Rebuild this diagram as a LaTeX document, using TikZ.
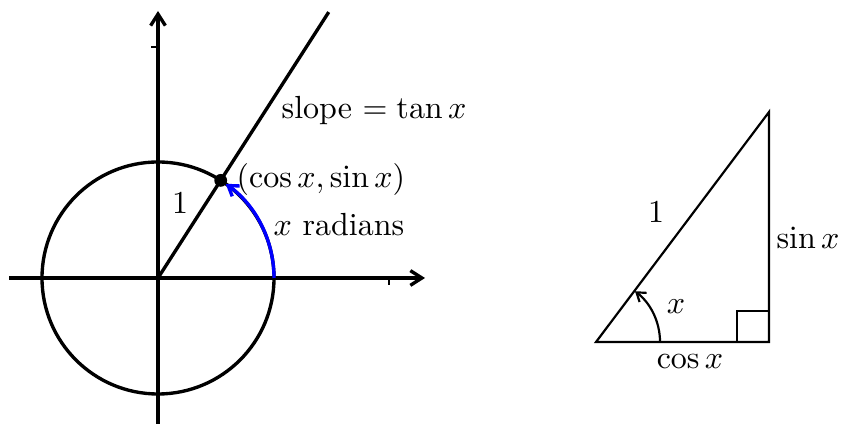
\documentclass[tikz,border=0pt]{standalone}
\usetikzlibrary{arrows.meta}
\begin{document}
\begin{tikzpicture}[x=0.3125pt,y=0.3125pt,
  thickline/.style={line width=1.05pt},
  thinline/.style={line width=0.68pt},
  axisarrow/.style={-{Straight Barb[length=3.6pt,width=4.6pt]}},
  lbl/.style={inner sep=0pt}]
\useasboundingbox (0,0) rectangle (844,424);
% left figure
\coordinate (O) at (158,146);
\coordinate (xs) at (9,146);
\coordinate (xe) at (425,146);
\coordinate (ys) at (158,0);
\coordinate (ye) at (158,413);
\draw[thickline,axisarrow] (xs) -- (xe);
\draw[thickline,axisarrow] (ys) -- (ye);
\coordinate (tx1) at (389,146);
\coordinate (tx2) at (389,139);
\coordinate (ty1) at (158,377);
\coordinate (ty2) at (151,377);
\draw[thinline] (tx1) -- (tx2);
\draw[thinline] (ty1) -- (ty2);
\draw[thickline] (O) circle[radius=116];
\path (O) -- ++(57.2958:316) coordinate (Rend);
\draw[thickline] (O) -- (Rend);
\path (O) ++(57.2958:116) coordinate (P);
\path (O) ++(0:116) coordinate (A0);
\draw[thickline,blue,-{Straight Barb[length=3pt,width=4pt]}] (A0) arc[start angle=0,end angle=54.3,radius=116];
\fill (P) circle[radius=2pt];
\node[lbl] (one) at (180,221) {1};
\node[lbl,anchor=west] (pt) at (236,244) {$(\cos x,\sin x)$};
\node[lbl] (rad) at (339,199) {$x$ radians};
\node[lbl] (slope) at (374,313) {slope $=\tan x$};
% triangle
\coordinate (TA) at (596,82);
\coordinate (TB) at (769,82);
\coordinate (TC) at (769,312);
\draw[thinline] (TA) -- (TB) -- (TC) -- cycle;
\coordinate (S1) at (737,82);
\coordinate (S2) at (737,113);
\coordinate (S3) at (769,113);
\draw[thinline] (S1) -- (S2) -- (S3);
\path (TA) ++(0:64) coordinate (T0);
\draw[thinline,-{Straight Barb[length=2.6pt,width=3.6pt]}] (T0) arc[start angle=0,end angle=52.5,radius=64];
\node[lbl] (tone) at (656,212) {1};
\node[lbl] (tsin) at (808,186) {$\sin x$};
\node[lbl] (tcos) at (690,62) {$\cos x$};
\node[lbl] (tx) at (676,117) {$x$};
\end{tikzpicture}
\end{document}
